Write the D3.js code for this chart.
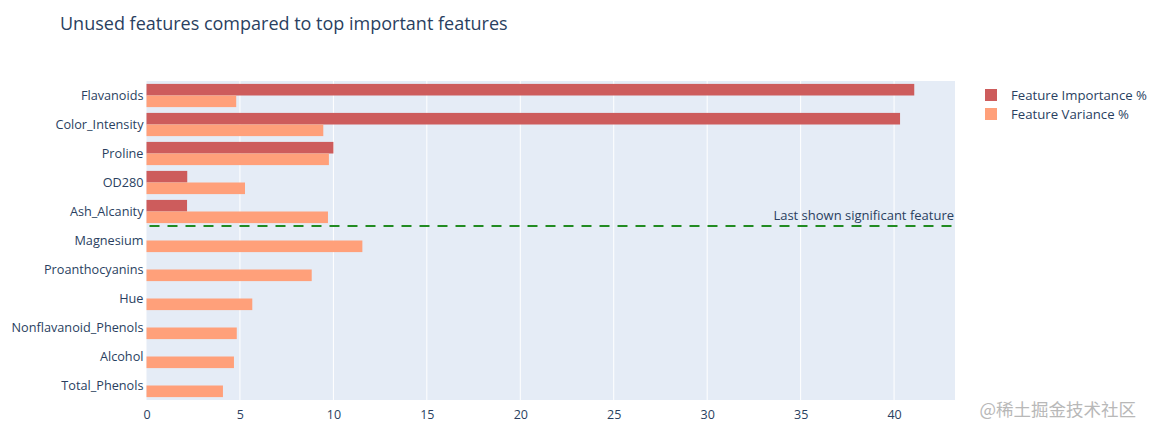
<!DOCTYPE html>
<html><head><meta charset="utf-8">
<script src="https://cdn.jsdelivr.net/npm/d3@7"></script>
<style>body{margin:0;background:#fff}svg{display:block}text{font-family:"Open Sans",Verdana,sans-serif}</style>
</head><body><svg id="c" width="1154" height="435"></svg>
<script>
const categories = ["Flavanoids","Color_Intensity","Proline","OD280","Ash_Alcanity","Magnesium","Proanthocyanins","Hue","Nonflavanoid_Phenols","Alcohol","Total_Phenols"];
const importance = [41.08,40.32,10.0,2.18,2.17,0,0,0,0,0,0];
const variance = [4.80,9.46,9.76,5.27,9.71,11.55,8.84,5.66,4.83,4.68,4.09];
const seriesNames = ["Feature Importance %","Feature Variance %"];
const seriesColors = ["#cd5c5c","#ffa07a"];
const xTicks = [0,5,10,15,20,25,30,35,40];
const cutoffIndex = 4.5;
const annotationText = "Last shown significant feature";
const titleText = "Unused features compared to top important features";

const svg = d3.select("#c");
const L=146.5,R=955,T=81,B=400;
const x = d3.scaleLinear().domain([0,43.26]).range([L,R]);
const y = d3.scaleBand().domain(categories).range([T,B]).paddingInner(0.2).paddingOuter(0.1);
const yc = d3.scaleLinear().domain([-0.5,categories.length-0.5]).range([T,B]);
const inner = d3.scaleBand().domain([0,1]).range([0,y.bandwidth()]);

svg.append("rect").attr("x",L).attr("y",T).attr("width",R-L).attr("height",B-T).attr("fill","#e5ecf6");
svg.append("g").selectAll("line").data(xTicks.filter(d=>d>0)).join("line")
  .attr("x1",d=>x(d)).attr("x2",d=>x(d)).attr("y1",T).attr("y2",B).attr("stroke","#fff").attr("stroke-width",1);

const data=[importance,variance];
data.forEach((arr,si)=>{
  svg.append("g").selectAll("rect").data(categories).join("rect")
    .attr("x",x(0)).attr("y",(c)=>y(c)+inner(si)).attr("height",inner.bandwidth())
    .attr("width",(c,i)=>x(arr[i])-x(0)).attr("fill",seriesColors[si]);
});

// axes
const xa = svg.append("g").attr("transform",`translate(0,${B})`).call(d3.axisBottom(x).tickValues(xTicks).tickSize(0).tickPadding(10));
xa.select(".domain").remove();
xa.selectAll("text").attr("fill","#2a3f5f").style("font-size","12.5px");
const ya = svg.append("g").attr("transform",`translate(${L},0)`).call(d3.axisLeft(yc).tickValues(d3.range(categories.length)).tickFormat(i=>categories[i]).tickSize(0).tickPadding(3));
ya.select(".domain").remove();
ya.selectAll("text").attr("fill","#2a3f5f").style("font-size","12.7px");

// cutoff line
svg.append("line").attr("x1",L).attr("x2",R).attr("y1",yc(cutoffIndex)).attr("y2",yc(cutoffIndex))
  .attr("stroke","#228b22").attr("stroke-width",2).attr("stroke-dasharray","10,8").attr("stroke-dashoffset",-3);
svg.append("text").attr("x",R-1).attr("y",yc(cutoffIndex)-6).attr("text-anchor","end").attr("fill","#2a3f5f").style("font-size","13px").text(annotationText);

// title
svg.append("text").attr("x",60).attr("y",30).attr("fill","#2a3f5f").style("font-size","18px").text(titleText);

// legend
const lg = svg.append("g");
seriesNames.forEach((n,i)=>{
  lg.append("rect").attr("x",985).attr("y",89+i*19).attr("width",12).attr("height",12).attr("fill",seriesColors[i]);
  lg.append("text").attr("x",1011).attr("y",99.5+i*19).attr("fill","#2a3f5f").style("font-size","13.2px").text(n);
});

// watermark
svg.append("text").attr("x",1136).attr("y",416).attr("text-anchor","end").attr("fill","#b8b8b8").style("font-size","17.5px").style("font-family","'Noto Sans CJK SC',sans-serif").text("@稀土掘金技术社区");
</script></body></html>
